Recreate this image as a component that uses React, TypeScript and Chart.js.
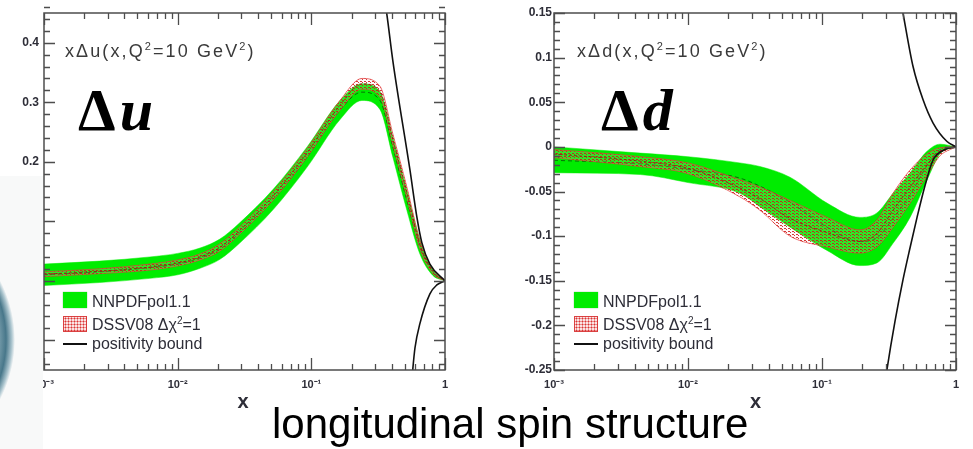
import React, { useEffect, useRef } from 'react';
import { Chart, registerables } from 'chart.js';

Chart.register(...registerables);

// ---------------- Δu panel data ----------------
const uX = [0.001, 0.0026, 0.0062, 0.01, 0.0147, 0.0207, 0.029, 0.052, 0.093, 0.164, 0.239, 0.326, 0.407, 0.519, 0.649, 0.811, 1];
const uNnpdfLow = [-0.008, -0.003, 0.004, 0.010, 0.021, 0.036, 0.063, 0.120, 0.191, 0.271, 0.303, 0.288, 0.208, 0.118, 0.045, 0.009, 0];
const uNnpdfHigh = [0.028, 0.033, 0.040, 0.046, 0.055, 0.070, 0.097, 0.154, 0.225, 0.303, 0.331, 0.318, 0.242, 0.152, 0.069, 0.019, 0];
const uNnpdfMid = [0.010, 0.015, 0.022, 0.028, 0.038, 0.053, 0.080, 0.137, 0.208, 0.287, 0.317, 0.303, 0.225, 0.135, 0.057, 0.014, 0];
const uDssvLow = [0.007, 0.012, 0.018, 0.025, 0.035, 0.050, 0.078, 0.136, 0.208, 0.287, 0.322, 0.309, 0.229, 0.139, 0.054, 0.012, 0];
const uDssvHigh = [0.015, 0.020, 0.028, 0.035, 0.045, 0.062, 0.090, 0.150, 0.222, 0.303, 0.340, 0.327, 0.247, 0.157, 0.068, 0.019, 0];
const uDssvMid = [0.011, 0.016, 0.023, 0.030, 0.040, 0.056, 0.084, 0.143, 0.215, 0.295, 0.331, 0.318, 0.238, 0.148, 0.061, 0.016, 0];
const uBoundUpX = [0.343, 0.367, 0.407, 0.546, 0.617, 0.671, 0.771, 1];
const uBoundUpY = [0.49, 0.448, 0.37, 0.187, 0.106, 0.064, 0.028, 0];
const uBoundLoX = [0.556, 0.575, 0.596, 0.649, 0.771, 0.869, 1];
const uBoundLoY = [-0.188, -0.147, -0.113, -0.072, -0.022, -0.007, 0];

// ---------------- Δd panel data ----------------
const dX = [0.001, 0.0044, 0.01, 0.0244, 0.0344, 0.0577, 0.109, 0.192, 0.257, 0.339, 0.454, 0.608, 0.760, 1];
const dNnpdfLow = [-0.029, -0.031, -0.040, -0.052, -0.067, -0.090, -0.116, -0.133, -0.130, -0.108, -0.079, -0.037, -0.008, 0];
const dNnpdfHigh = [0.000, -0.007, -0.011, -0.018, -0.022, -0.034, -0.063, -0.079, -0.074, -0.052, -0.029, -0.005, 0.003, 0];
const dNnpdfMid = [-0.015, -0.019, -0.025, -0.035, -0.044, -0.062, -0.090, -0.106, -0.102, -0.080, -0.054, -0.021, -0.003, 0];
const dDssvLow = [-0.012, -0.022, -0.030, -0.056, -0.071, -0.100, -0.112, -0.119, -0.112, -0.090, -0.063, -0.032, -0.010, 0];
const dDssvHigh = [-0.003, -0.011, -0.018, -0.037, -0.045, -0.060, -0.079, -0.093, -0.082, -0.052, -0.026, -0.008, -0.001, 0];
const dDssvMid = [-0.008, -0.016, -0.024, -0.046, -0.058, -0.080, -0.096, -0.106, -0.097, -0.071, -0.045, -0.020, -0.005, 0];
const dBoundUpX = [0.369, 0.402, 0.478, 0.567, 0.673, 0.857, 1];
const dBoundUpY = [0.18, 0.15, 0.09, 0.053, 0.027, 0.006, 0];
const dBoundLoX = [0.290, 0.305, 0.351, 0.402, 0.454, 0.512, 0.588, 0.673, 0.828, 1];
const dBoundLoY = [-0.273, -0.25, -0.195, -0.149, -0.113, -0.079, -0.043, -0.015, -0.003, 0];

// ---------------- ticks ----------------
const xTickVals = [0.001, 0.01, 0.1, 1];
const xTickText = ['10\u207B\u00B3', '10\u207B\u00B2', '10\u207B\u00B9', '1'];
const uTickVals = [-0.1, 0, 0.1, 0.2, 0.3, 0.4];
const uTickText = ['-0.1', '0', '0.1', '0.2', '0.3', '0.4'];
const dTickVals = [-0.25, -0.2, -0.15, -0.1, -0.05, 0, 0.05, 0.1, 0.15];
const dTickText = ['-0.25', '-0.2', '-0.15', '-0.1', '-0.05', '0', '0.05', '0.1', '0.15'];

const GREEN = 'rgb(0,236,0)';
const AXIS = '#4d4d4d';
const TXT = '#2e2e38';

const zip = (xs: number[], ys: number[]) => xs.map((x, i) => ({ x, y: ys[i] }));

function makeHatch(): CanvasPattern | string {
  const c = document.createElement('canvas');
  c.width = 4;
  c.height = 3;
  const g = c.getContext('2d');
  if (!g) return 'rgba(220,40,40,0.4)';
  g.fillStyle = 'rgba(255,210,210,0.18)';
  g.fillRect(0, 0, 4, 3);
  g.fillStyle = 'rgba(205,25,25,0.85)';
  g.fillRect(0, 0, 2, 1);
  g.fillRect(2, 1, 1, 1);
  return g.createPattern(c, 'repeat') || 'rgba(220,40,40,0.4)';
}

const frameTicks = {
  id: 'frameTicks',
  afterDraw(chart: any, _args: any, opts: any) {
    const { ctx, chartArea: a, scales } = chart;
    const xs = scales.x;
    const ys = scales.y;
    ctx.save();
    ctx.strokeStyle = AXIS;
    ctx.lineWidth = 1.3;
    ctx.beginPath();
    for (const d of [0.001, 0.01, 0.1, 1]) {
      for (let m = 1; m <= 9; m++) {
        const v = d * m;
        if (v > 1.0000001) break;
        const px = Math.round(xs.getPixelForValue(v)) + 0.5;
        const len = m === 1 ? 12 : 6;
        ctx.moveTo(px, a.bottom);
        ctx.lineTo(px, a.bottom - len);
        ctx.moveTo(px, a.top);
        ctx.lineTo(px, a.top + len);
      }
    }
    const minor = opts.minor;
    const major = opts.major;
    const n0 = Math.round(ys.min / minor);
    const n1 = Math.round(ys.max / minor);
    for (let n = n0; n <= n1; n++) {
      const v = n * minor;
      const r = v / major;
      const isMajor = Math.abs(r - Math.round(r)) < 1e-6;
      const len = isMajor ? 11 : 6;
      const py = Math.round(ys.getPixelForValue(v)) + 0.5;
      ctx.moveTo(a.left, py);
      ctx.lineTo(a.left + len, py);
      ctx.moveTo(a.right, py);
      ctx.lineTo(a.right - len, py);
    }
    ctx.stroke();
    ctx.lineWidth = 1.5;
    ctx.strokeRect(a.left, a.top, a.right - a.left, a.bottom - a.top);
    ctx.restore();
  },
};

interface PanelSpec {
  x: number[];
  nLow: number[];
  nHigh: number[];
  nMid: number[];
  sLow: number[];
  sHigh: number[];
  sMid: number[];
  bUpX: number[];
  bUpY: number[];
  bLoX: number[];
  bLoY: number[];
  yMin: number;
  yMax: number;
  yTicks: number[];
  yText: string[];
  major: number;
  minor: number;
  yWidth: number;
  padRight: number;
  labelPad: number;
}

function buildConfig(p: PanelSpec, hatch: CanvasPattern | string): any {
  const line = {
    pointRadius: 0,
    cubicInterpolationMode: 'monotone',
    fill: false,
  };
  return {
    type: 'line',
    data: {
      datasets: [
        { ...line, label: 'bound up', data: zip(p.bUpX, p.bUpY), borderColor: '#111', borderWidth: 1.6, order: 0 },
        { ...line, label: 'bound low', data: zip(p.bLoX, p.bLoY), borderColor: '#111', borderWidth: 1.6, order: 0 },
        { ...line, label: 'DSSV mid', data: zip(p.x, p.sMid), borderColor: 'rgba(150,20,20,0.85)', borderWidth: 1, borderDash: [3, 2], order: 1 },
        { ...line, label: 'DSSV08', data: zip(p.x, p.sHigh), borderColor: 'rgba(225,60,60,0.75)', borderWidth: 1, backgroundColor: hatch, fill: 4, order: 2 },
        { ...line, label: 'DSSV low', data: zip(p.x, p.sLow), borderColor: 'rgba(225,60,60,0.75)', borderWidth: 1, order: 2 },
        { ...line, label: 'NNPDF mid', data: zip(p.x, p.nMid), borderColor: 'rgba(10,70,10,0.75)', borderWidth: 1, borderDash: [4, 3], order: 3 },
        { ...line, label: 'NNPDFpol1.1', data: zip(p.x, p.nHigh), borderColor: GREEN, borderWidth: 0.5, backgroundColor: GREEN, fill: 7, order: 4 },
        { ...line, label: 'NNPDF low', data: zip(p.x, p.nLow), borderColor: GREEN, borderWidth: 0.5, order: 4 },
      ],
    },
    options: {
      animation: false,
      responsive: false,
      devicePixelRatio: 1,
      layout: { padding: { top: 13, right: p.padRight, left: 0, bottom: 0 } },
      plugins: {
        legend: { display: false },
        tooltip: { enabled: false },
        frameTicks: { major: p.major, minor: p.minor },
      },
      scales: {
        x: {
          type: 'logarithmic',
          min: 0.001,
          max: 1,
          grid: { display: false, drawTicks: false },
          border: { display: false },
          afterFit: (s: any) => {
            s.height = 30;
          },
          afterBuildTicks: (s: any) => {
            s.ticks = xTickVals.map((v) => ({ value: v }));
          },
          ticks: {
            autoSkip: false,
            maxRotation: 0,
            padding: 8,
            color: TXT,
            font: { family: 'Liberation Sans', weight: 'bold', size: 11 },
            callback: (_v: any, i: number) => xTickText[i],
          },
        },
        y: {
          type: 'linear',
          min: p.yMin,
          max: p.yMax,
          grid: { display: false, drawTicks: false },
          border: { display: false },
          afterFit: (s: any) => {
            s.width = p.yWidth;
          },
          afterBuildTicks: (s: any) => {
            s.ticks = p.yTicks.map((v) => ({ value: v }));
          },
          ticks: {
            autoSkip: false,
            padding: p.labelPad,
            color: TXT,
            font: { family: 'Liberation Sans', weight: 'bold', size: 12 },
            callback: (_v: any, i: number) => p.yText[i],
          },
        },
      },
    },
    plugins: [frameTicks],
  };
}

const panelU: PanelSpec = {
  x: uX, nLow: uNnpdfLow, nHigh: uNnpdfHigh, nMid: uNnpdfMid,
  sLow: uDssvLow, sHigh: uDssvHigh, sMid: uDssvMid,
  bUpX: uBoundUpX, bUpY: uBoundUpY, bLoX: uBoundLoX, bLoY: uBoundLoY,
  yMin: -0.15, yMax: 0.45, yTicks: uTickVals, yText: uTickText,
  major: 0.1, minor: 0.02, yWidth: 44, padRight: 25, labelPad: 5,
};

const panelD: PanelSpec = {
  x: dX, nLow: dNnpdfLow, nHigh: dNnpdfHigh, nMid: dNnpdfMid,
  sLow: dDssvLow, sHigh: dDssvHigh, sMid: dDssvMid,
  bUpX: dBoundUpX, bUpY: dBoundUpY, bLoX: dBoundLoX, bLoY: dBoundLoY,
  yMin: -0.25, yMax: 0.15, yTicks: dTickVals, yText: dTickText,
  major: 0.05, minor: 0.01, yWidth: 54, padRight: 17, labelPad: 2,
};

function Panel({ spec, left, width }: { spec: PanelSpec; left: number; width: number }) {
  const ref = useRef<HTMLCanvasElement>(null);
  useEffect(() => {
    if (!ref.current) return;
    const chart = new Chart(ref.current, buildConfig(spec, makeHatch()));
    return () => chart.destroy();
  }, [spec]);
  return (
    <canvas
      ref={ref}
      width={width}
      height={400}
      style={{ position: 'absolute', left, top: 0, width, height: 400 }}
    />
  );
}

const abs = (o: React.CSSProperties): React.CSSProperties => ({ position: 'absolute', whiteSpace: 'nowrap', ...o });
const sup = (size: number, lift: number): React.CSSProperties => ({ fontSize: size, position: 'relative', top: -lift, lineHeight: 0 });

function Legend({ boxLeft, textLeft }: { boxLeft: number; textLeft: number }) {
  const txt: React.CSSProperties = { fontFamily: 'Liberation Sans', fontSize: 16, lineHeight: '16px', color: TXT };
  return (
    <>
      <div style={abs({ left: boxLeft, top: 292, width: 24, height: 16, background: GREEN, boxShadow: '0 0 1px rgba(0,120,0,0.6)' })} />
      <div style={abs({ ...txt, left: textLeft, top: 293.5 })}>NNPDFpol1.1</div>
      <div
        style={abs({
          left: boxLeft,
          top: 316,
          width: 22,
          height: 14,
          border: '1px solid rgba(215,50,50,0.9)',
          backgroundColor: '#fbe3e3',
          backgroundImage: 'radial-gradient(circle, rgba(215,35,35,0.9) 0.8px, transparent 1.2px)',
          backgroundSize: '3px 3px',
        })}
      />
      <div style={abs({ ...txt, left: textLeft, top: 316.5 })}>
        DSSV08 {'\u0394\u03C7'}
        <span style={sup(10, 6)}>2</span>=1
      </div>
      <div style={abs({ left: boxLeft, top: 343, width: 24, height: 2, background: '#111' })} />
      <div style={abs({ ...txt, left: textLeft, top: 335.5 })}>positivity bound</div>
    </>
  );
}

function InnerTitle({ left, q }: { left: number; q: string }) {
  return (
    <div
      style={abs({
        left,
        top: 42,
        fontFamily: 'Liberation Sans',
        fontSize: 18,
        lineHeight: '18px',
        letterSpacing: 2.1,
        color: '#3a3a3a',
      })}
    >
      x{'\u0394'}
      {q}(x,Q<span style={sup(11, 7)}>2</span>=10 GeV
      <span style={sup(11, 7)}>2</span>)
    </div>
  );
}

function BigLabel({ left, q }: { left: number; q: string }) {
  return (
    <div
      style={abs({
        left,
        top: 80,
        fontFamily: 'Liberation Serif',
        fontWeight: 'bold',
        fontSize: 60,
        lineHeight: '60px',
        color: '#000',
      })}
    >
      {'\u0394'}
      <span style={{ fontStyle: 'italic', marginLeft: 4 }}>{q}</span>
    </div>
  );
}

export default function App() {
  return (
    <div
      style={{
        position: 'absolute',
        left: 0,
        top: 0,
        width: 973,
        height: 449,
        overflow: 'hidden',
        background: '#fff',
      }}
    >
      <Panel spec={panelU} left={0} width={470} />
      <Panel spec={panelD} left={500} width={473} />

      {/* slide decoration covering the left axis labels */}
      <div style={abs({ left: 0, top: 176, width: 43, height: 273, background: '#f8f9f9' })} />
      <div
        style={abs({
          left: -241,
          top: 212,
          width: 256,
          height: 256,
          borderRadius: '50%',
          background:
            'radial-gradient(circle closest-side, rgba(170,198,208,0.9) 80%, rgba(62,112,132,0.95) 93%, rgba(110,155,172,0.55) 97.5%, rgba(255,255,255,0) 100%)',
        })}
      />

      <InnerTitle left={65} q="u" />
      <InnerTitle left={577} q="d" />
      <BigLabel left={78} q="u" />
      <BigLabel left={601} q="d" />

      <Legend boxLeft={63} textLeft={92} />
      <Legend boxLeft={574} textLeft={603} />

      <div style={abs({ left: 237.5, top: 391, fontFamily: 'Liberation Sans', fontWeight: 'bold', fontSize: 20, lineHeight: '20px', color: TXT })}>x</div>
      <div style={abs({ left: 750, top: 391, fontFamily: 'Liberation Sans', fontWeight: 'bold', fontSize: 20, lineHeight: '20px', color: TXT })}>x</div>

      <div style={abs({ left: 272, top: 403, fontFamily: 'Liberation Sans', fontSize: 42, lineHeight: '42px', color: '#000' })}>
        longitudinal spin structure
      </div>
    </div>
  );
}
